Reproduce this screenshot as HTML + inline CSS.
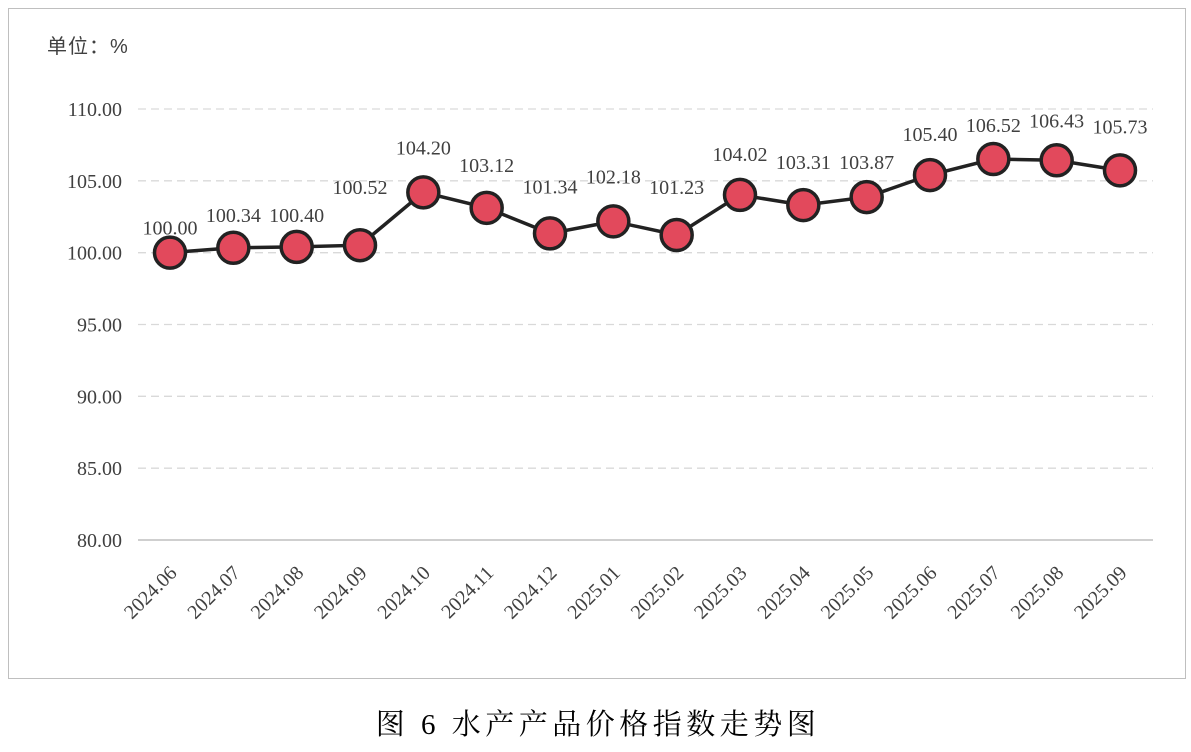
<!DOCTYPE html>
<html><head><meta charset="utf-8">
<style>
html,body{margin:0;padding:0;background:#fff;}
body{width:1191px;height:747px;position:relative;overflow:hidden;}
svg text{font-family:"Liberation Serif","Noto Serif CJK SC",serif;}
</style></head>
<body>
<svg id="chart" width="1191" height="747" viewBox="0 0 1191 747" xmlns="http://www.w3.org/2000/svg">
  <rect x="8.5" y="8.5" width="1177" height="670" fill="#fff" stroke="#bfbfbf" stroke-width="1"/>
  <text x="47" y="53" font-size="20" fill="#404040" letter-spacing="1" style='font-family:"Liberation Sans","Noto Sans CJK SC",sans-serif'>单位：%</text>
  <g id="grid"></g>
  <g id="yticks"></g>
  <g id="xticks"></g>
  <g id="series"></g>
  <text x="598" y="734" font-size="29" text-anchor="middle" fill="#000" letter-spacing="4.5">图 6 水产产品价格指数走势图</text>
</svg>
<script>
const categories = ["2024.06","2024.07","2024.08","2024.09","2024.10","2024.11","2024.12","2025.01","2025.02","2025.03","2025.04","2025.05","2025.06","2025.07","2025.08","2025.09"];
const values = [100.00,100.34,100.40,100.52,104.20,103.12,101.34,102.18,101.23,104.02,103.31,103.87,105.40,106.52,106.43,105.73];
const yTicks = [80,85,90,95,100,105,110];
const labelDy = [-25,-33,-32,-58,-45,-43,-47,-45,-48,-41,-43,-35,-41,-34,-40,-44];

const NS="http://www.w3.org/2000/svg";
function y(v){return 540-(v-80)*(431/30);}
function x(i){return 170+i*(950/15);}
function mk(tag,attrs,parent){const e=document.createElementNS(NS,tag);for(const k in attrs)e.setAttribute(k,attrs[k]);parent.appendChild(e);return e;}

const grid=document.getElementById('grid'), yt=document.getElementById('yticks'), xt=document.getElementById('xticks'), se=document.getElementById('series');
yTicks.forEach(t=>{
  if(t>80){
    const l=mk('line',{x1:138,x2:1153,y1:y(t),y2:y(t),stroke:'#d9d9d9','stroke-width':1.3,'stroke-dasharray':'8,5'},grid);
    
    
  }
  const tx=mk('text',{x:122,y:y(t)+7,'font-size':20,'text-anchor':'end',fill:'#404040'},yt);
  tx.textContent=t.toFixed(2);
  
  
});
const ax=mk('line',{x1:138,x2:1153,y1:540,y2:540,stroke:'#bfbfbf','stroke-width':1.5},grid);


categories.forEach((c,i)=>{
  const px=x(i)+8, py=574;
  const tx=mk('text',{x:px,y:py,'font-size':20,'text-anchor':'end',fill:'#404040',transform:`rotate(-45 ${px} ${py})`},xt);
  tx.textContent=c;
  
  
});
const pts=values.map((v,i)=>x(i)+','+y(v)).join(' ');
const pl=mk('polyline',{points:pts,fill:'none',stroke:'#222','stroke-width':3.5},se);


values.forEach((v,i)=>{
  const c=mk('circle',{cx:x(i),cy:y(v),r:15.5,fill:'#e2495c',stroke:'#222','stroke-width':3.5},se);
  
  
  const t=mk('text',{x:x(i),y:y(v)+labelDy[i]+7,'font-size':20,'text-anchor':'middle',fill:'#404040'},se);
  t.textContent=v.toFixed(2);
  
  
});
</script>
</body></html>
